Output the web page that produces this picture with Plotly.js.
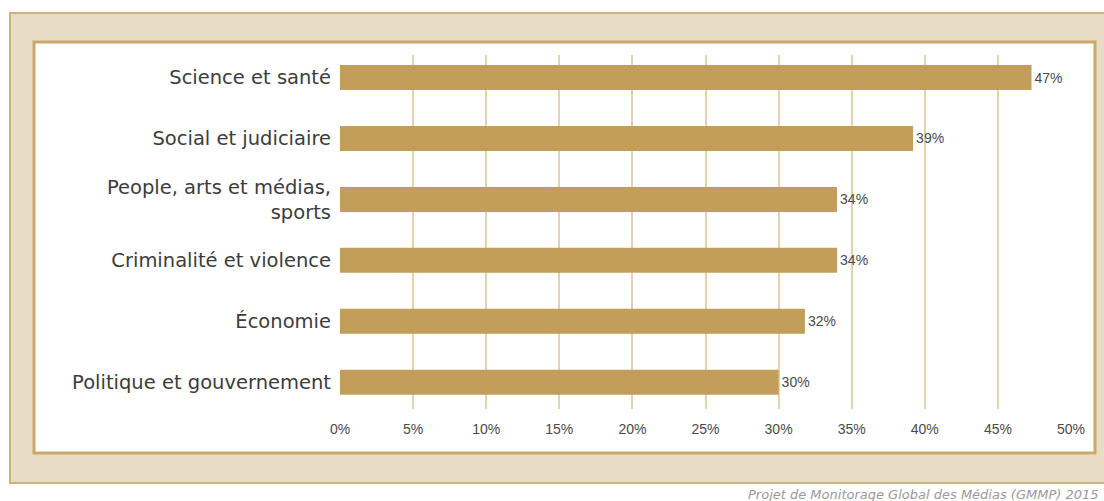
<!DOCTYPE html>
<html>
<head>
<meta charset="utf-8">
<script src="https://cdn.plot.ly/plotly-3.0.1.min.js"></script>
<style>html,body{margin:0;padding:0;background:#fff;}#chart{width:1104px;height:501px;}</style>
</head>
<body>
<div id="chart"></div>
<script>
var categories = ["Science et santé", "Social et judiciaire", "People, arts et médias,<br>sports", "Criminalité et violence", "Économie", "Politique et gouvernement"];
var values = [47.3, 39.2, 34.0, 34.0, 31.8, 30.0];
var valueLabels = ["47%", "39%", "34%", "34%", "32%", "30%"];
var tickValues = [0, 5, 10, 15, 20, 25, 30, 35, 40, 45, 50];
var tickLabels = ["0%", "5%", "10%", "15%", "20%", "25%", "30%", "35%", "40%", "45%", "50%"];
var footer = "Projet de Monitorage Global des Médias (GMMP) 2015";

var W = 1104, H = 501;
var L = 340, R = 33, T = 55, B = 92;
var pw = W - L - R, ph = H - T - B;
function px(x){ return (x - L) / pw; }
function py(y){ return (H - B - y) / ph; }

var trace = {
  type: 'bar',
  orientation: 'h',
  y: categories,
  x: values,
  text: valueLabels,
  textposition: 'outside',
  cliponaxis: false,
  textfont: {family: 'Liberation Sans Narrow, Liberation Sans, sans-serif', size: 14, color: '#4a4a4a'},
  marker: {color: '#C29E5A', line: {width: 0}},
  hoverinfo: 'none'
};

var layout = {
  width: W, height: H,
  margin: {l: L, r: R, t: T, b: B, pad: 0},
  paper_bgcolor: '#ffffff',
  plot_bgcolor: 'rgba(0,0,0,0)',
  showlegend: false,
  bargap: 0.59,
  xaxis: {
    range: [0, 50],
    tickvals: tickValues,
    ticktext: tickLabels,
    showgrid: true,
    gridcolor: '#E2D2AE',
    gridwidth: 2,
    zeroline: false,
    showline: false,
    ticks: '',
    ticklabelstandoff: 10,
    tickfont: {family: 'Liberation Sans Narrow, Liberation Sans, sans-serif', size: 14, color: '#4a4a4a'},
    fixedrange: true
  },
  yaxis: {
    type: 'category',
    range: [5.44, -0.37],
    showgrid: false,
    zeroline: false,
    showline: false,
    ticks: '',
    ticklabelstandoff: 8,
    tickfont: {family: 'DejaVu Sans, sans-serif', size: 19.5, color: '#3c3c3c'},
    fixedrange: true
  },
  shapes: [
    {type: 'rect', xref: 'paper', yref: 'paper', layer: 'below',
     x0: px(10), x1: px(1120), y0: py(483), y1: py(13),
     fillcolor: '#E8DCC5', line: {color: '#CDB27A', width: 2}},
    {type: 'rect', xref: 'paper', yref: 'paper', layer: 'below',
     x0: px(34), x1: px(1095), y0: py(453), y1: py(42),
     fillcolor: '#ffffff', line: {color: '#C9A96B', width: 3}}
  ],
  annotations: [
    {xref: 'paper', yref: 'paper', x: px(1101), y: py(494), xanchor: 'right', yanchor: 'middle',
     text: '<i>' + footer + '</i>', showarrow: false,
     font: {family: 'DejaVu Sans, sans-serif', size: 13, color: '#9a9a9a'}}
  ]
};

Plotly.newPlot('chart', [trace], layout, {displayModeBar: false, staticPlot: true});
</script>
</body>
</html>
